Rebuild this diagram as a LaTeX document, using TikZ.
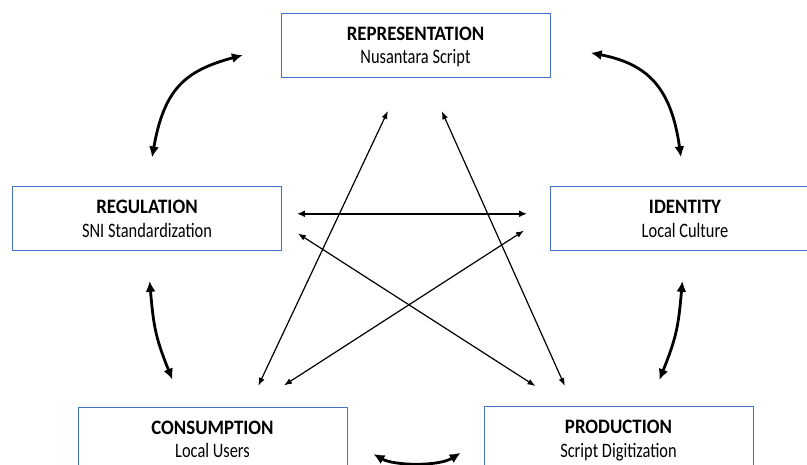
\documentclass[tikz,border=0pt]{standalone}
\usepackage{fontspec}
\setmainfont{Carlito}
\newfontfamily\headfont{Carlito}[FakeStretch=0.92]
\newfontfamily\subfont{Carlito}[FakeStretch=0.8]
\usepackage{xcolor}
\usepackage{tikz}
\usetikzlibrary{arrows.meta}
\definecolor{boxblue}{RGB}{68,114,196}

\begin{document}
\begin{tikzpicture}[
  x=1pt, y=-1pt,
  box/.style={draw=boxblue, line width=0.9pt, minimum width=269pt, minimum height=64pt, inner sep=0pt,
    align=center, text height=38.6pt, text depth=1.4pt, font=\subfont\fontsize{20.5}{23.6}\selectfont},
  bigarrow/.style={line width=2.8pt, {Latex[length=11pt,width=10pt]}-{Latex[length=11pt,width=10pt]}},
  midarrow/.style={line width=1.8pt, {Latex[length=8pt,width=7pt]}-{Latex[length=8pt,width=7pt]}},
  thinarrow/.style={line width=1.2pt, {Latex[length=8pt,width=6pt]}-{Latex[length=8pt,width=6pt]}}
]
\clip (0,0) rectangle (807,464);
\node[box] (rep) at (415.5,45) {{\headfont\bfseries REPRESENTATION}\\Nusantara Script};
\node[box] (reg) at (147,218.5) {{\headfont\bfseries REGULATION}\\SNI Standardization};
\node[box] (ide) at (685,218.5) {{\headfont\bfseries IDENTITY}\\Local Culture};
\node[box] (con) at (212.5,439) {{\headfont\bfseries CONSUMPTION}\\Local Users};
\node[box] (pro) at (618.5,438.5) {{\headfont\bfseries PRODUCTION}\\Script Digitization};

% outer ring
\draw[bigarrow, shorten <=29pt, shorten >=39pt] (reg.north) to[out=80, in=195, looseness=1.3] (rep.west);
\draw[bigarrow, shorten <=29pt, shorten >=41pt] (ide.north) to[out=98, in=-11, looseness=1.3] (rep.east);
\draw[bigarrow, shorten <=30pt, shorten >=29pt] (reg.south) to[out=-85, in=112, looseness=1.2] (con.132);
\draw[bigarrow, shorten <=30pt, shorten >=28pt] (ide.south) to[out=-95, in=68, looseness=1.2] (pro.47);
\draw[bigarrow, shorten <=30pt, shorten >=27pt] (con.east) to[out=-30, in=212] (pro.west);

% inner links
\draw[midarrow, shorten <=15pt, shorten >=23pt] (reg.2) -- (ide.178);
\draw[thinarrow, shorten <=19pt, shorten >=37pt] (reg.-2) -- (pro.148);
\draw[thinarrow, shorten <=31pt, shorten >=39pt] (ide.178) -- (con.40);
\draw[thinarrow, shorten <=37pt, shorten >=23pt] (rep.250) -- (con.42);
\draw[thinarrow, shorten <=37pt, shorten >=22pt] (rep.289) -- (pro.144);
\end{tikzpicture}
\end{document}
